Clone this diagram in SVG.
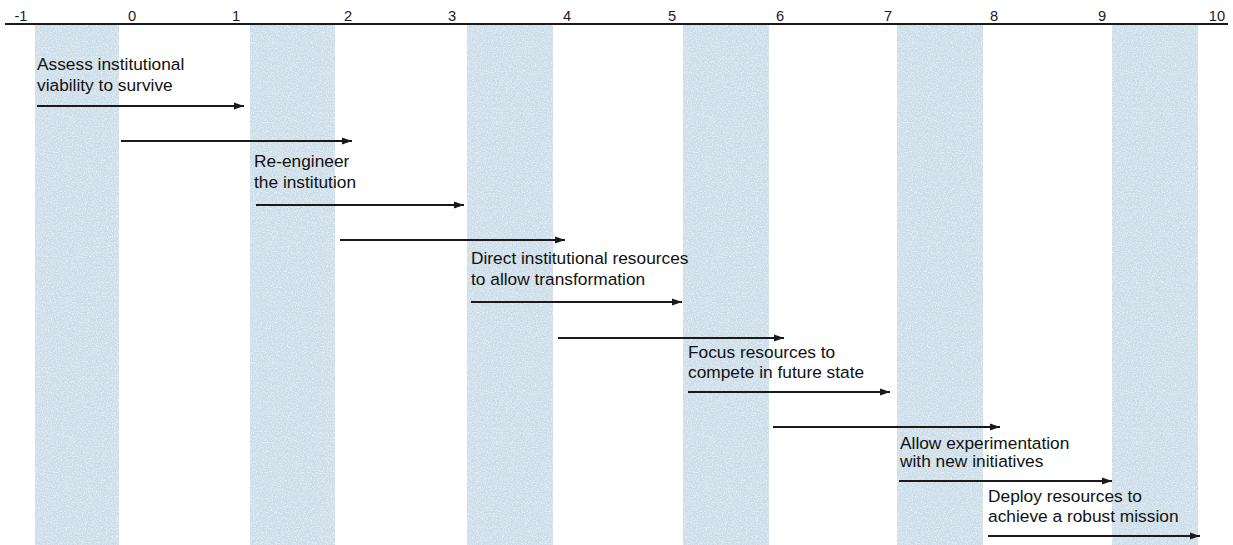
<svg xmlns="http://www.w3.org/2000/svg" width="1233" height="545" viewBox="0 0 1233 545">
  <style>
    .band { fill: #c9dce8; }
    .axis { stroke: #1a1a1a; stroke-width: 2; }
    .tick { font-family: "Liberation Sans", Arial, sans-serif; font-size: 14px; fill: #1a1a1a; text-anchor: middle; }
    .lbl { font-family: "Liberation Sans", Arial, sans-serif; font-size: 16.5px; fill: #111111; }
    .arrow { stroke: #1a1a1a; stroke-width: 2; fill: none; marker-end: url(#head); }
  </style>
  <defs>
    <marker id="head" markerUnits="userSpaceOnUse" markerWidth="11" markerHeight="8" refX="10" refY="4" orient="auto">
      <path d="M0,0.5 L10,4 L0,7.5 z" fill="#1a1a1a"/>
    </marker>
    <!-- paper grain for the shaded phase bands -->
    <filter id="grain" x="0" y="0" width="100%" height="100%">
      <feTurbulence type="fractalNoise" baseFrequency="0.8" numOctaves="2" seed="7" result="noise"/>
      <feColorMatrix in="noise" type="matrix" values="0 0 0 0 1  0 0 0 0 1  0 0 0 0 1  1.4 0 0 0 -0.55" result="speck"/>
      <feComposite in="speck" in2="SourceGraphic" operator="in" result="clipped"/>
      <feMerge>
        <feMergeNode in="SourceGraphic"/>
        <feMergeNode in="clipped"/>
      </feMerge>
    </filter>
  </defs>

  <rect width="1233" height="545" fill="#ffffff"/>

  <!-- shaded phase bands -->
  <g id="bands" filter="url(#grain)">
    <rect class="band" x="35" y="24" width="84" height="521"/>
    <rect class="band" x="250" y="24" width="85" height="521"/>
    <rect class="band" x="467" y="24" width="86" height="521"/>
    <rect class="band" x="683" y="24" width="86" height="521"/>
    <rect class="band" x="897" y="24" width="86" height="521"/>
    <rect class="band" x="1112" y="24" width="86" height="521"/>
  </g>

  <!-- time axis -->
  <g id="axis">
    <line class="axis" x1="5" y1="24" x2="1228" y2="24"/>
    <text class="tick" transform="translate(21 21) scale(1.05 1)">-1</text>
    <text class="tick" transform="translate(132 21) scale(1.05 1)">0</text>
    <text class="tick" transform="translate(236 21) scale(1.05 1)">1</text>
    <text class="tick" transform="translate(348 21) scale(1.05 1)">2</text>
    <text class="tick" transform="translate(452 21) scale(1.05 1)">3</text>
    <text class="tick" transform="translate(567 21) scale(1.05 1)">4</text>
    <text class="tick" transform="translate(672 21) scale(1.05 1)">5</text>
    <text class="tick" transform="translate(780 21) scale(1.05 1)">6</text>
    <text class="tick" transform="translate(888 21) scale(1.05 1)">7</text>
    <text class="tick" transform="translate(994 21) scale(1.05 1)">8</text>
    <text class="tick" transform="translate(1102 21) scale(1.05 1)">9</text>
    <text class="tick" transform="translate(1217 21) scale(1.05 1)">10</text>
  </g>

  <!-- phase labels -->
  <g id="assess">
    <text class="lbl" transform="translate(37 70) scale(1.05 1)"><tspan x="0" y="0">Assess institutional</tspan><tspan x="0" y="21">viability to survive</tspan></text>
  </g>
  <g id="reengineer">
    <text class="lbl" transform="translate(254 167) scale(1.05 1)"><tspan x="0" y="0">Re-engineer</tspan><tspan x="0" y="21">the institution</tspan></text>
  </g>
  <g id="direct">
    <text class="lbl" transform="translate(471 264) scale(1.05 1)"><tspan x="0" y="0">Direct institutional resources</tspan><tspan x="0" y="21">to allow transformation</tspan></text>
  </g>
  <g id="focus">
    <text class="lbl" transform="translate(688 358) scale(1.05 1)"><tspan x="0" y="0">Focus resources to</tspan><tspan x="0" y="20">compete in future state</tspan></text>
  </g>
  <g id="allow">
    <text class="lbl" transform="translate(900 449) scale(1.05 1)"><tspan x="0" y="0">Allow experimentation</tspan><tspan x="0" y="18">with new initiatives</tspan></text>
  </g>
  <g id="deploy">
    <text class="lbl" transform="translate(988 502) scale(1.05 1)"><tspan x="0" y="0">Deploy resources to</tspan><tspan x="0" y="20">achieve a robust mission</tspan></text>
  </g>

  <!-- phase span arrows -->
  <g id="connectors">
    <line class="arrow" x1="37" y1="106" x2="244" y2="106"/>
    <line class="arrow" x1="121" y1="141" x2="352" y2="141"/>
    <line class="arrow" x1="256" y1="205" x2="464" y2="205"/>
    <line class="arrow" x1="340" y1="240" x2="565" y2="240"/>
    <line class="arrow" x1="471" y1="302" x2="682" y2="302"/>
    <line class="arrow" x1="558" y1="338" x2="784" y2="338"/>
    <line class="arrow" x1="688" y1="392" x2="890" y2="392"/>
    <line class="arrow" x1="773" y1="427" x2="1000" y2="427"/>
    <line class="arrow" x1="899" y1="481" x2="1112" y2="481"/>
    <line class="arrow" x1="988" y1="536" x2="1200" y2="536"/>
  </g>
</svg>
